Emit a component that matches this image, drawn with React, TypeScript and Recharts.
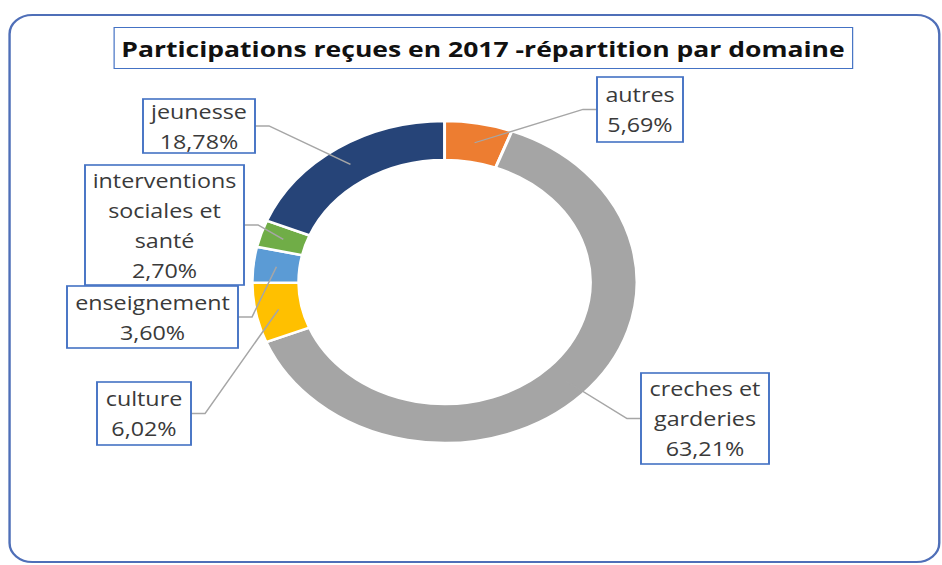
import { PieChart, Pie, Cell } from 'recharts'

const DOMAINS = [
  'autres',
  'creches et garderies',
  'culture',
  'enseignement',
  'interventions sociales et santé',
  'jeunesse',
]
const SHARES = [5.69, 63.21, 6.02, 3.6, 2.7, 18.78]
const LABEL_LINES = [
  ['autres'],
  ['creches et', 'garderies'],
  ['culture'],
  ['enseignement'],
  ['interventions', 'sociales et', 'santé'],
  ['jeunesse'],
]
const COLORS = ['#ED7D31', '#A5A5A5', '#FFC000', '#5B9BD5', '#70AD47', '#264478']

const data = DOMAINS.map((name, i) => ({ name, value: SHARES[i] }))

// the source picture is stretched sideways, so we draw at native size and scale x
const SX = 1.195
const W = 942 / SX
const H = 565
const CX = 372
const CY = 282
const RAD = Math.PI / 180
const LINE_H = 30
const FONT = '"Open Sans", sans-serif'

// label boxes, screen px: left, top, right, bottom
const BOXES = [
  [597, 77, 683, 142],
  [641, 373, 769, 464],
  [97, 382, 191, 445],
  [67, 286, 238, 348],
  [85, 165, 244, 285],
  [143, 99, 255, 153],
]

const pct = (v: number) => v.toFixed(2).replace('.', ',') + '%'

function renderLabel(props: any) {
  const { cx, cy, midAngle, innerRadius, outerRadius, index } = props
  const r = (innerRadius + outerRadius) / 2
  const ax = cx + r * Math.cos(-midAngle * RAD)
  const ay = cy + r * Math.sin(-midAngle * RAD)
  const [l, t, rr, b] = BOXES[index]
  const x0 = l / SX
  const x1 = rr / SX
  const my = (t + b) / 2
  const boxLeft = (x0 + x1) / 2 < ax
  const ex = boxLeft ? x1 : x0
  const elbow = boxLeft ? x1 + 14 / SX : x0 - 14 / SX
  const lines = [...LABEL_LINES[index], pct(SHARES[index])]
  const firstY = my - ((lines.length - 1) * LINE_H) / 2
  return (
    <g key={`lbl-${index}`}>
      <polyline
        points={`${ax},${ay} ${elbow},${my} ${ex},${my}`}
        fill="none"
        stroke="#A6A6A6"
        strokeWidth={1.3}
      />
      <rect
        x={x0}
        y={t}
        width={x1 - x0}
        height={b - t}
        fill="#fff"
        stroke="#4472C4"
        strokeWidth={1.6}
      />
      {lines.map((s, i) => (
        <text
          key={i}
          x={(x0 + x1) / 2}
          y={firstY + i * LINE_H}
          textAnchor="middle"
          dominantBaseline="central"
          fill="#3A3A3A"
          fontFamily={FONT}
          fontSize={19.5}
        >
          {s}
        </text>
      ))}
    </g>
  )
}

export default function App() {
  return (
    <div
      style={{
        position: 'absolute',
        left: 0,
        top: 0,
        width: W,
        height: H,
        transform: `scaleX(${SX})`,
        transformOrigin: '0 0',
        background: '#fff',
        overflow: 'hidden',
      }}
    >
      <div
        style={{
          position: 'absolute',
          left: 8 / SX,
          top: 14,
          width: 932 / SX,
          height: 549,
          border: '2px solid #4F6FB8',
          borderRadius: 20,
          boxSizing: 'border-box',
        }}
      />
      <div
        style={{
          position: 'absolute',
          left: 113 / SX,
          top: 27,
          width: 740 / SX,
          height: 42,
          border: '1.6px solid #4472C4',
          boxSizing: 'border-box',
          display: 'flex',
          alignItems: 'center',
          justifyContent: 'center',
          fontFamily: FONT,
          fontWeight: 700,
          fontSize: 22.2,
          color: '#111',
          whiteSpace: 'nowrap',
        }}
      >
        Participations reçues en 2017 -répartition par domaine
      </div>
      <div style={{ position: 'absolute', left: 0, top: 0 }}>
        <PieChart width={W} height={H} margin={{ top: 0, right: 0, bottom: 0, left: 0 }}>
          <Pie
            data={data}
            dataKey="value"
            nameKey="name"
            cx={CX}
            cy={CY}
            innerRadius={122}
            outerRadius={161}
            startAngle={90}
            endAngle={-270}
            stroke="#fff"
            strokeWidth={2.5}
            label={renderLabel}
            labelLine={false}
            isAnimationActive={false}
          >
            {data.map((_, i) => (
              <Cell key={i} fill={COLORS[i]} />
            ))}
          </Pie>
        </PieChart>
      </div>
    </div>
  )
}
